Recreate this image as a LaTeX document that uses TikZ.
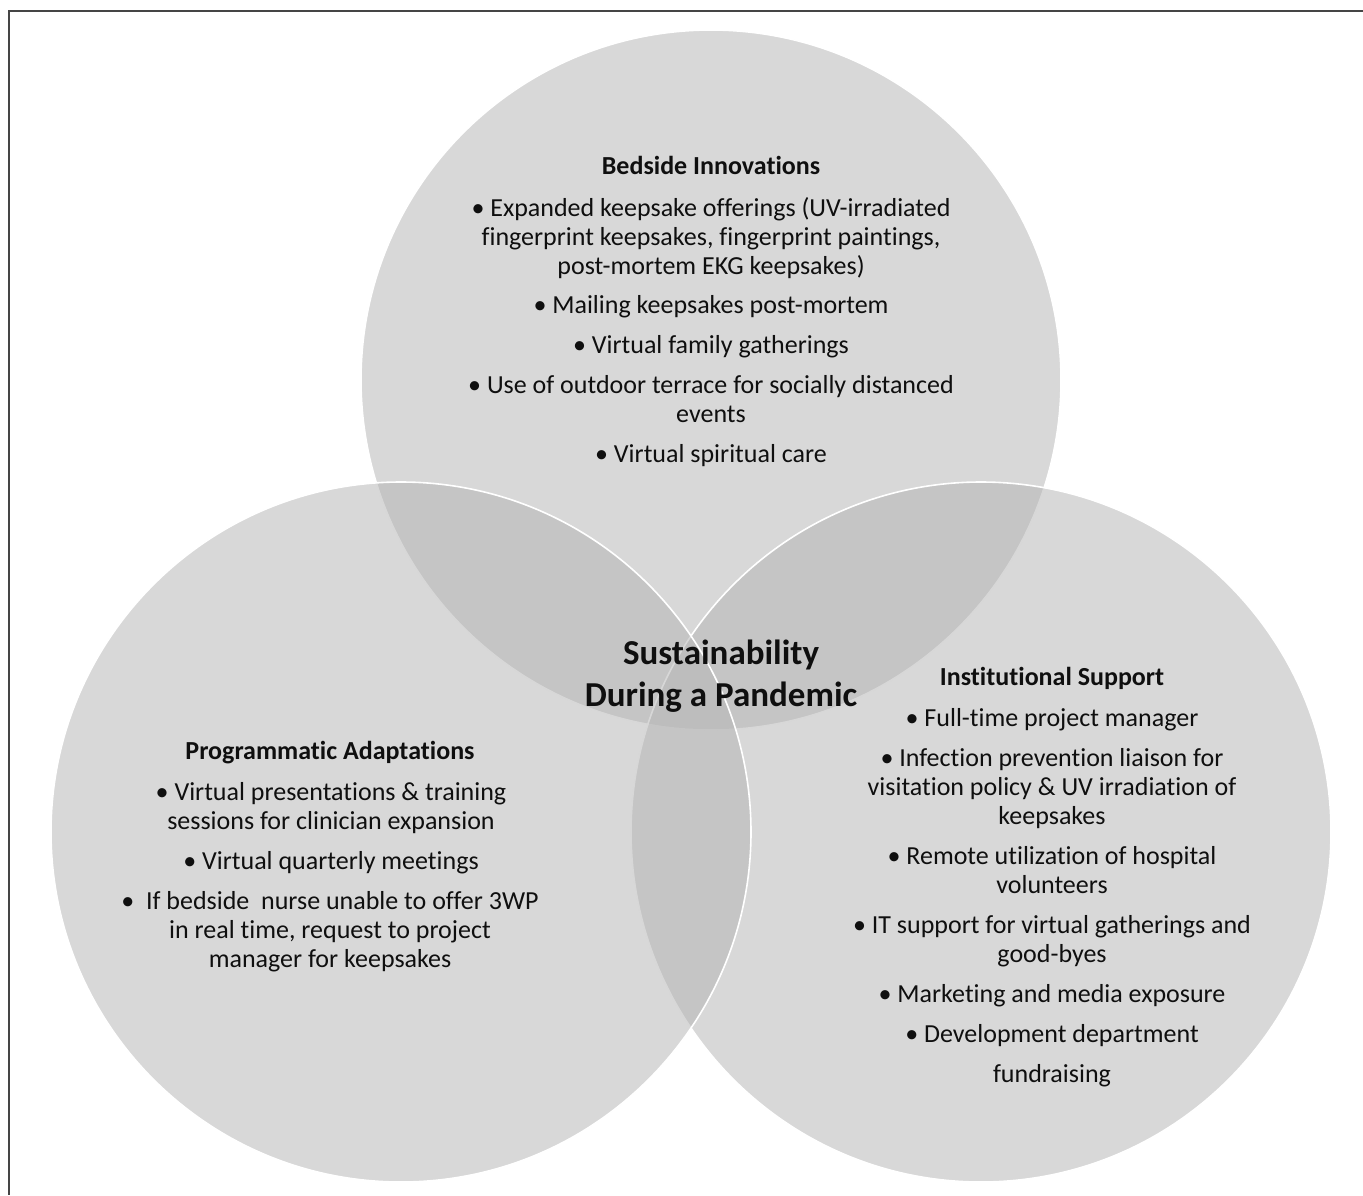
\documentclass[tikz,border=0pt]{standalone}
\usepackage{fontspec}
\setmainfont{Carlito}[Ligatures={NoCommon}]
\definecolor{circfill}{gray}{0.71}
\definecolor{framecol}{gray}{0.27}
\definecolor{txtcol}{gray}{0.06}
\begin{document}
\begin{tikzpicture}[x=1pt,y=-1pt,
  circ/.style={fill=circfill,fill opacity=0.53},
  rim/.style={draw=white,line width=1.6pt},
  txt/.style={anchor=base,inner sep=0pt,text=txtcol,font=\fontsize{26}{29}\selectfont},
  hd/.style={anchor=base,inner sep=0pt,text=txtcol,font=\bfseries\fontsize{26}{29}\selectfont},
  ttl/.style={anchor=base,inner sep=0pt,text=txtcol,font=\bfseries\fontsize{35}{42}\selectfont}]
\useasboundingbox (0,0) rectangle (1363,1195);
% frame (top and left edges)
\coordinate (fTL) at (9,11);
\coordinate (fTR) at (1363,11);
\coordinate (fBL) at (9,1195);
\draw[framecol,line width=2pt] (fTR) -- (fTL) -- (fBL);
% circles: top, right, left
\coordinate (cT) at (711,380);
\coordinate (cR) at (981,832);
\coordinate (cL) at (401,832);
\fill[circ] (cT) circle[radius=350pt];
\draw[rim] (cT) circle[radius=350pt];
\fill[circ] (cR) circle[radius=350pt];
\draw[rim] (cR) circle[radius=350pt];
\fill[circ] (cL) circle[radius=350pt];
\draw[rim] (cL) circle[radius=350pt];
% top circle text
\node[hd]  (b0) at (711,174) {Bedside Innovations};
\node[txt] (b1) at (711,216) {• Expanded keepsake offerings (UV-irradiated};
\node[txt] (b2) at (711,245) {fingerprint keepsakes, fingerprint paintings,};
\node[txt] (b3) at (711,274) {post-mortem EKG keepsakes)};
\node[txt] (b4) at (711,313) {• Mailing keepsakes post-mortem};
\node[txt] (b5) at (711,353) {• Virtual family gatherings};
\node[txt] (b6) at (711,393) {• Use of outdoor terrace for socially distanced};
\node[txt] (b7) at (711,422) {events};
\node[txt] (b8) at (711,462) {• Virtual spiritual care};
% centre title
\node[ttl] (s1) at (721,664) {Sustainability};
\node[ttl] (s2) at (721,706) {During a Pandemic};
% left circle text
\node[hd]  (p0) at (330,759) {Programmatic Adaptations};
\node[txt] (p1) at (331,800) {• Virtual presentations \& training};
\node[txt] (p2) at (331,829) {sessions for clinician expansion};
\node[txt] (p3) at (331,869) {• Virtual quarterly meetings};
\node[txt] (p4) at (330,909) {•\ \ If bedside\ \ nurse unable to offer 3WP};
\node[txt] (p5) at (330,938) {in real time, request to project};
\node[txt] (p6) at (330,967) {manager for keepsakes};
% right circle text
\node[hd]  (i0) at (1052,685) {Institutional Support};
\node[txt] (i1) at (1052,726) {• Full-time project manager};
\node[txt] (i2) at (1052,766) {• Infection prevention liaison for};
\node[txt] (i3) at (1052,795) {visitation policy \& UV irradiation of};
\node[txt] (i4) at (1052,824) {keepsakes};
\node[txt] (i5) at (1052,864) {• Remote utilization of hospital};
\node[txt] (i6) at (1052,893) {volunteers};
\node[txt] (i7) at (1052,933) {• IT support for virtual gatherings and};
\node[txt] (i8) at (1052,962) {good-byes};
\node[txt] (i9) at (1052,1002) {• Marketing and media exposure};
\node[txt] (i10) at (1052,1042) {• Development department};
\node[txt] (i11) at (1052,1082) {fundraising};
\end{tikzpicture}
\end{document}
